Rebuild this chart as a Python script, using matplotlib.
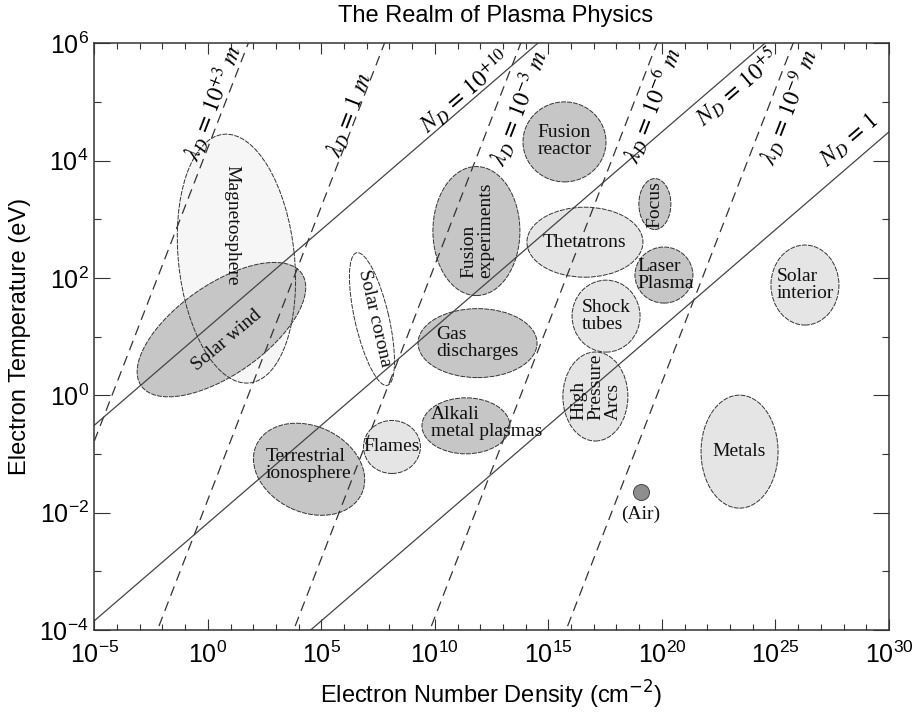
import numpy as np
import matplotlib
matplotlib.use("Agg")
import matplotlib.pyplot as plt
from matplotlib.patches import Ellipse
from matplotlib.transforms import ScaledTranslation
from matplotlib.ticker import NullFormatter

plt.rcParams['font.family'] = ['Liberation Sans', 'DejaVu Sans']
plt.rcParams['axes.unicode_minus'] = False

# plasma regions, centre given as log10 density and log10 temperature
regions = ['Magnetosphere', 'Solar wind', 'Solar corona', 'Terrestrial\nionosphere', 'Flames',
           'Alkali\nmetal plasmas', 'Gas\ndischarges', 'Fusion\nexperiments', 'Fusion\nreactor',
           'Thetatrons', 'Focus', 'Laser\nPlasma', 'Shock\ntubes', 'High\nPressure\nArcs',
           'Solar\ninterior', 'Metals']
log_density = [1.26, 0.60, 7.23, 4.46, 8.11, 11.37, 11.88, 11.83, 15.71,
               16.61, 19.69, 20.09, 17.54, 17.07, 26.30, 23.42]
log_temp = [2.33, 1.12, 1.30, -1.26, -0.88, -0.52, 0.89, 2.80, 4.32,
            2.61, 3.26, 2.05, 1.35, -0.02, 1.88, -0.96]

# air
air_log_density = 19.08
air_log_temp = -1.65

# Debye length lines (m) and density where each crosses T = 1 eV
debye_lengths = ['+3', '', '-3', '-6', '-9']
debye_n_at_1eV = [-4.22, 1.78, 7.78, 13.78, 19.78]
# Debye sphere particle number lines
debye_numbers = ['+10', '+5', '']
number_n_at_1eV = [-3.47, 6.53, 16.53]

# ellipse look: width, height (inches), angle, fill, label rotation, label offset (pt)
shapes = [(2.50, 1.16, 96), (1.96, 0.90, 35), (1.36, 0.34, 103), (1.16, 0.86, -25),
          (0.57, 0.53, 0), (0.88, 0.56, 0), (1.19, 0.69, 0), (0.87, 1.29, 0),
          (0.83, 0.80, 0), (1.16, 0.70, 0), (0.32, 0.51, 0), (0.58, 0.56, 0),
          (0.68, 0.72, 0), (0.65, 0.89, 0), (0.68, 0.80, 0), (0.77, 1.13, 0)]
dark, light = '#c6c6c6', '#e5e5e5'
fills = ['#f6f6f6', dark, 'white', dark, light, dark, dark, dark, dark,
         light, dark, dark, light, light, light, light]
label_rot = [-90, 40, -77, 0, 0, 0, 0, 90, 0, 0, 90, 0, 0, 90, 0, 0]
label_off = [(-3, 24), (4, -7.5), (2, 0.5), (-0.7, 2.9), (0, 0), (15, 1.8), (0, 0), (0.5, 0.5),
             (0, 0.5), (0, 0), (0, 0), (1, 0), (0, 0), (0.4, 7.2), (0, 0), (0, 0)]

fig = plt.figure(figsize=(9.19, 7.16), dpi=100)
ax = fig.add_axes([0.1026, 0.1201, 0.8647, 0.8194])
ax.set_xscale('log')
ax.set_yscale('log')
ax.set_xlim(1e-5, 1e30)
ax.set_ylim(1e-4, 1e6)

# region ellipses: fill first, outlines on top so overlaps stay visible
for i, name in enumerate(regions):
    w, h, ang = shapes[i]
    tr = fig.dpi_scale_trans + ScaledTranslation(10**log_density[i], 10**log_temp[i], ax.transData)
    ax.add_patch(Ellipse((0, 0), w, h, angle=ang, transform=tr, facecolor=fills[i],
                         edgecolor='none', zorder=1))
    ax.add_patch(Ellipse((0, 0), w, h, angle=ang, transform=tr, facecolor='none',
                         edgecolor='#333333', lw=0.7, ls=(0, (5, 1.2)), zorder=3))
    ax.annotate(name, (10**log_density[i], 10**log_temp[i]), xytext=label_off[i],
                textcoords='offset points', ha='center', va='center', rotation=label_rot[i],
                rotation_mode='anchor', multialignment='left', family='Liberation Serif',
                fontsize=14, color='#111111', zorder=5, linespacing=1.0)

ax.plot(10**air_log_density, 10**air_log_temp, 'o', ms=11.5, mfc='#8e8e8e', mec='#444444',
        mew=0.7, zorder=4)
ax.annotate('(Air)', (10**air_log_density, 10**air_log_temp), xytext=(0, -16),
            textcoords='offset points', ha='center', va='center', family='Liberation Serif',
            fontsize=14, color='#111111', zorder=5)

n = np.logspace(-5, 30, 2)
for lab, n1 in zip(debye_lengths, debye_n_at_1eV):
    ax.plot(n, n / 10**n1, color='#333333', lw=0.9, ls=(0, (8, 5)), zorder=2)
for lab, n1 in zip(debye_numbers, number_n_at_1eV):
    ax.plot(n, (n / 10**n1)**(1 / 3), color='#444444', lw=0.9, zorder=2)

# line labels
lam_label_pos = [(0.23, 4.98), (6.27, 4.78), (13.67, 4.90), (19.57, 4.95), (25.6, 4.91)]
num_label_pos = [(11.33, 5.17), (23.31, 5.25), (28.29, 4.35)]
for lab, (x, y) in zip(debye_lengths, lam_label_pos):
    txt = r'$\lambda_D\,=\,10^{%s}\ m$' % lab if lab else r'$\lambda_D\,=\,1\ m$'
    ax.text(10**x, 10**y, txt, rotation=68.8, ha='center', va='center', fontsize=17,
            math_fontfamily='stix', zorder=5)
for lab, (x, y) in zip(debye_numbers, num_label_pos):
    txt = r'$N_D\,=\,10^{%s}$' % lab if lab else r'$N_D\,=\,1$'
    ax.text(10**x, 10**y, txt, rotation=40.7, ha='center', va='center', fontsize=17,
            math_fontfamily='stix', zorder=5)

ax.set_xticks(10.0**np.arange(-5, 31, 5))
ax.set_xticks(10.0**np.arange(-5, 31, 1), minor=True)
ax.set_yticks(10.0**np.arange(-4, 7, 2))
ax.set_yticks(10.0**np.arange(-4, 7, 1), minor=True)
ax.xaxis.set_minor_formatter(NullFormatter())
ax.yaxis.set_minor_formatter(NullFormatter())
ax.tick_params(which='both', direction='in', top=True, right=True, color='#333333', width=0.8,
               labelsize=18)
ax.tick_params(axis='x', which='major', length=8, pad=8)
ax.tick_params(axis='x', which='minor', length=4)
ax.tick_params(axis='y', which='major', length=11.5, pad=4)
ax.tick_params(axis='y', which='minor', length=5)
for s in ax.spines.values():
    s.set_linewidth(1.1)
    s.set_color('#333333')

ax.set_xlabel('Electron Number Density (cm$^{-2}$)', fontsize=17, labelpad=8)
ax.set_ylabel('Electron Temperature (eV)', fontsize=17, labelpad=6)
fig.text(0.539, 0.978, 'The Realm of Plasma Physics', ha='center', va='center', fontsize=17)

fig.savefig('out.png', dpi=100)
